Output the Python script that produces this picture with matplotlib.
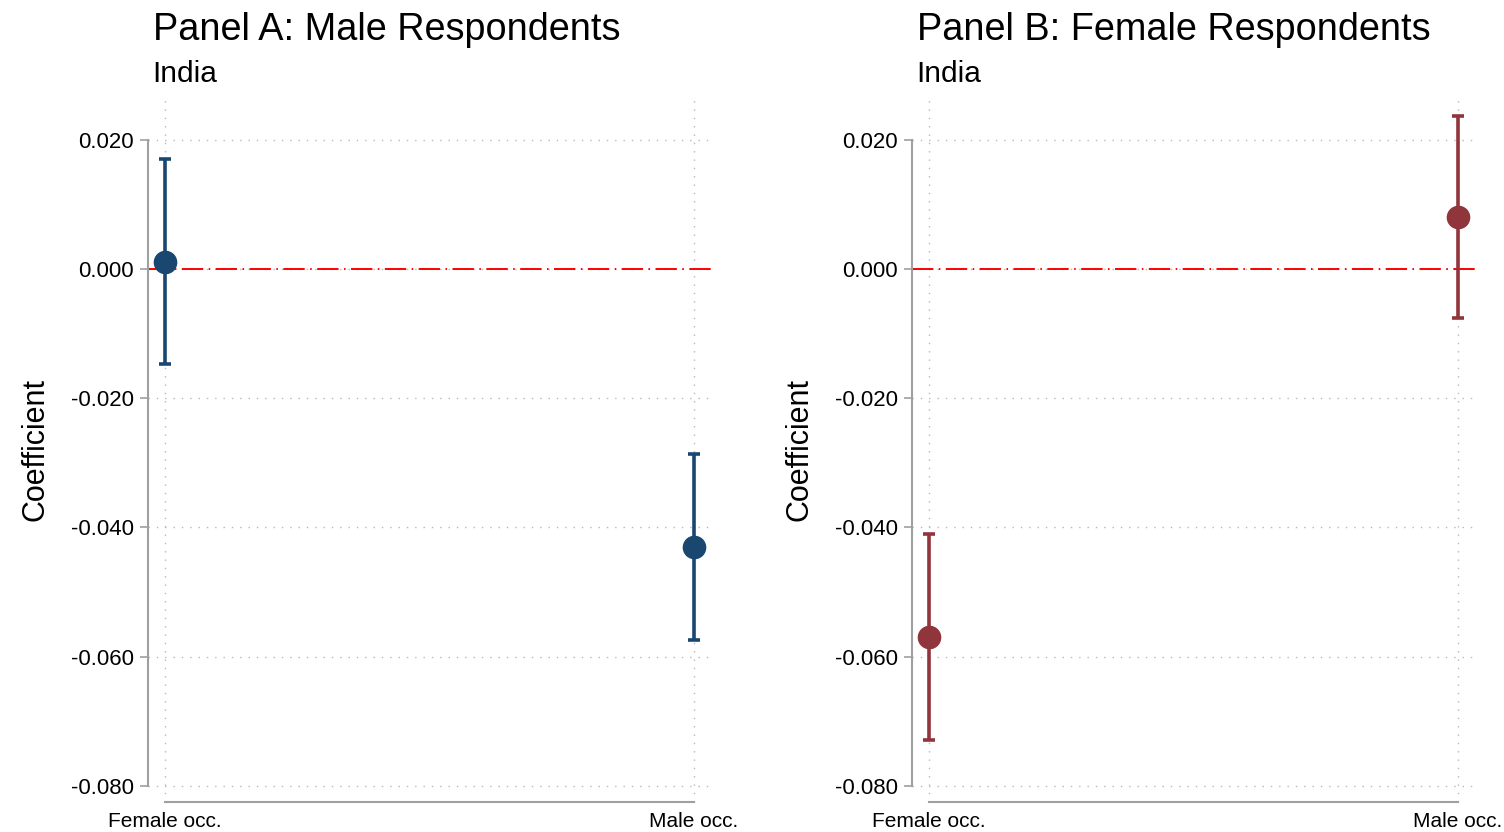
import matplotlib
matplotlib.use("Agg")
import matplotlib.pyplot as plt

plt.rcParams['font.family'] = ['Liberation Sans', 'DejaVu Sans']

categories = ['Female occ.', 'Male occ.']
panel_titles = ['Panel A: Male Respondents', 'Panel B: Female Respondents']
subtitle = 'India'

# point estimates and 95% CI bounds
coef_male = [0.0011, -0.0431]
lo_male = [-0.0147, -0.0574]
hi_male = [0.0170, -0.0286]

coef_female = [-0.0569, 0.0080]
lo_female = [-0.0729, -0.0076]
hi_female = [-0.0410, 0.0237]

yticks = [0.02, 0.0, -0.02, -0.04, -0.06, -0.08]
colors = ['#1a476f', '#90353b']

fig = plt.figure(figsize=(15.04, 8.32), dpi=100)
ax_a = fig.add_axes([0.0984, 0.0361, 0.375, 0.8474])
ax_b = fig.add_axes([0.6064, 0.0361, 0.375, 0.8474])

panels = [(ax_a, coef_male, lo_male, hi_male),
          (ax_b, coef_female, lo_female, hi_female)]

for i, (ax, coef, lo, hi) in enumerate(panels):
    x = list(range(len(categories)))
    err = [[c - l for c, l in zip(coef, lo)], [h - c for c, h in zip(coef, hi)]]
    ax.axhline(0, color='red', lw=1.4, dashes=(11, 2.8, 0.8, 2.8), zorder=2)
    ax.errorbar(x, coef, yerr=err, fmt='o', color=colors[i], ms=16,
                elinewidth=2.6, capsize=4, capthick=2.6, zorder=3)

    ax.set_xlim(-0.032, 1.034)
    ax.set_ylim(-0.0825, 0.0266)
    ax.set_xticks(x)
    ax.set_xticklabels(categories, fontsize=15)
    ax.set_yticks(yticks)
    ax.set_yticklabels([f'{t:.3f}' for t in yticks], fontsize=16)
    ax.tick_params(axis='x', length=0, pad=7)
    ax.tick_params(axis='y', length=6, width=1.2, color='#a0a0a0', pad=4)

    ax.grid(True, color='#b8b8b8', linestyle=(0, (1, 5)), lw=1)
    ax.set_axisbelow(True)

    for s in ['top', 'right']:
        ax.spines[s].set_visible(False)
    ax.spines['left'].set_bounds(-0.08, 0.02)
    ax.spines['bottom'].set_bounds(0, 1)
    ax.spines['left'].set_color('#a0a0a0')
    ax.spines['bottom'].set_color('#a0a0a0')
    ax.spines['left'].set_linewidth(1.5)
    ax.spines['bottom'].set_linewidth(1.5)

    ax.set_ylabel('Coefficient', fontsize=22, labelpad=15)
    ax.text(0.008, 1.081, panel_titles[i], transform=ax.transAxes,
            fontsize=27.3, va='baseline')
    ax.text(0.008, 1.021, subtitle, transform=ax.transAxes,
            fontsize=21.5, va='baseline')

fig.savefig('out.png', dpi=100)
